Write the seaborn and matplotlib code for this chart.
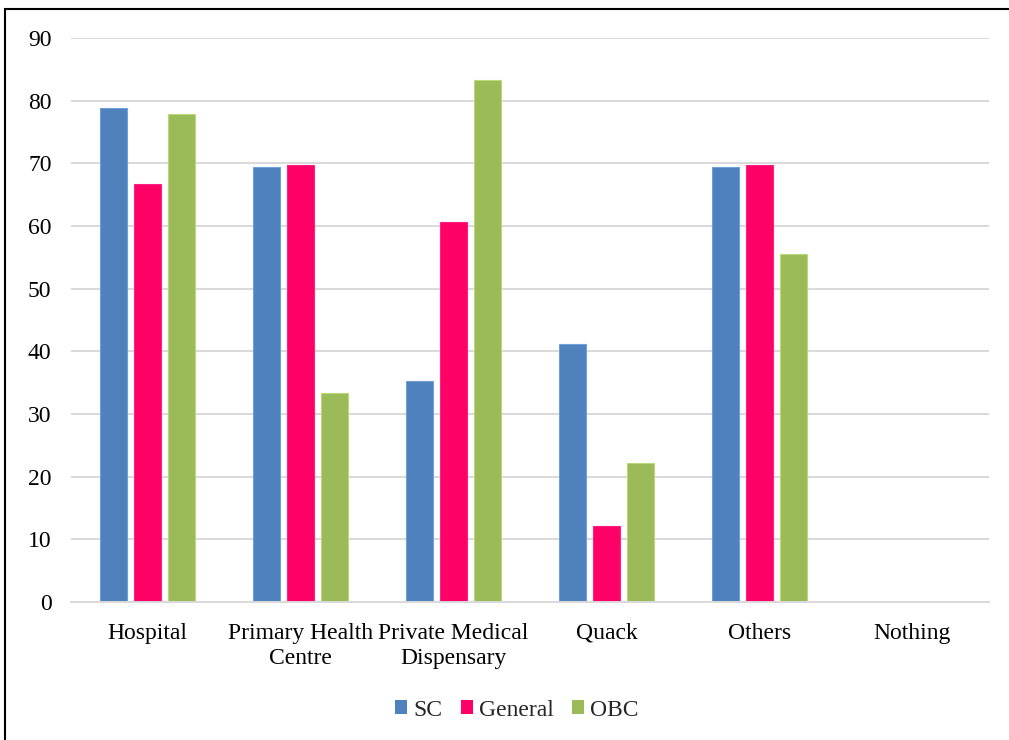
import matplotlib
matplotlib.use("Agg")
import matplotlib.pyplot as plt
from matplotlib.patches import Rectangle
import seaborn as sns
import pandas as pd

# Source of treatment by social group (%)
categories = ["Hospital", "Primary Health\nCentre", "Private Medical\nDispensary",
              "Quack", "Others", "Nothing"]
sc_values = [78.8, 69.4, 35.3, 41.2, 69.4, 0.0]
general_values = [66.7, 69.7, 60.6, 12.1, 69.7, 0.0]
obc_values = [77.8, 33.3, 83.3, 22.2, 55.6, 0.0]
groups = ["SC", "General", "OBC"]
y_ticks = [0, 10, 20, 30, 40, 50, 60, 70, 80, 90]

df = pd.DataFrame({
    "category": categories * 3,
    "group": ["SC"] * 6 + ["General"] * 6 + ["OBC"] * 6,
    "value": sc_values + general_values + obc_values,
})

palette = {"SC": "#4F81BD", "General": "#FF0066", "OBC": "#9BBB59"}
FS = 17

sns.set_theme(style="white")
plt.rcParams["font.family"] = ["Liberation Serif", "DejaVu Serif"]

fig = plt.figure(figsize=(10.09, 7.40), dpi=100)
ax = fig.add_axes([71 / 1009, 1 - 602 / 740, (989 - 71) / 1009, (602 - 38) / 740])

sns.barplot(data=df, x="category", y="value", hue="group", hue_order=groups,
            order=categories, palette=palette, width=0.667, gap=0.2,
            saturation=1, ax=ax, legend=False)

for bar in ax.patches:
    fc = bar.get_facecolor()
    bar.set_edgecolor((min(fc[0] + 0.12, 1), min(fc[1] + 0.12, 1), min(fc[2] + 0.12, 1), 1))
    bar.set_linewidth(0.8)

ax.set_ylim(0, 90)
ax.set_xlim(-0.5, len(categories) - 0.5)
ax.set_yticks(y_ticks)
ax.set_yticklabels([str(t) for t in y_ticks])
ax.yaxis.grid(True, color="#D9D9D9", linewidth=1.4)
ax.set_axisbelow(True)
for side in ["left", "right", "top"]:
    ax.spines[side].set_visible(False)
ax.spines["bottom"].set_color("#D9D9D9")
ax.spines["bottom"].set_linewidth(1.4)
ax.set_xlabel("")
ax.set_ylabel("")
ax.tick_params(axis="y", length=0, pad=14, labelsize=FS, colors="black")
ax.tick_params(axis="x", length=0, pad=15, labelsize=FS, colors="black")
for lbl in ax.get_xticklabels():
    lbl.set_linespacing(1.28)

handles = [Rectangle((0, 0), 1, 1, facecolor=palette[g], edgecolor="none") for g in groups]
fig.legend(handles, groups, loc="center", bbox_to_anchor=(517 / 1009, 1 - 710 / 740),
           ncol=3, frameon=False, fontsize=FS, handlelength=0.5, handleheight=0.5,
           handletextpad=0.25, columnspacing=0.8)

# chart frame
fig.patches.append(Rectangle((5 / 1009, -0.05), 1.1, 1 - 9 / 740 + 0.05,
                             transform=fig.transFigure, fill=False,
                             edgecolor="black", linewidth=1.5, clip_on=False))

fig.savefig("out.png", dpi=100)
